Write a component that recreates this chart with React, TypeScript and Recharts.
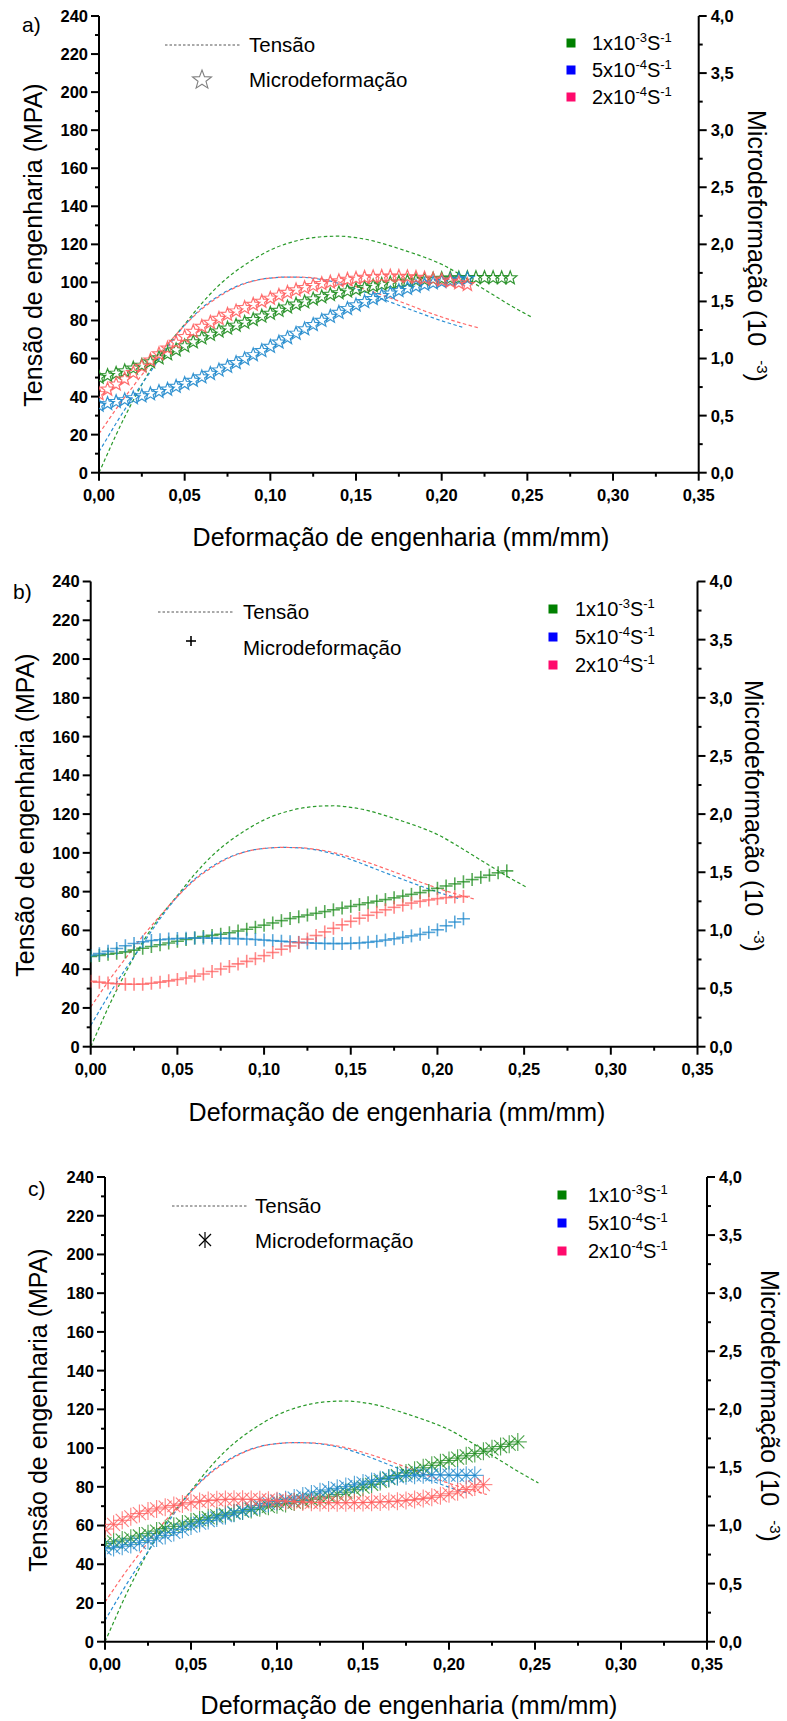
import React from 'react';
import { ComposedChart, Line, Scatter, XAxis, YAxis } from 'recharts';

// strain grid for the microdeformation markers (mm/mm)
const strainGrid = [
  0.000, 0.005, 0.010, 0.015, 0.020, 0.025, 0.030, 0.035, 0.040, 0.045,
  0.050, 0.055, 0.060, 0.065, 0.070, 0.075, 0.080, 0.085, 0.090, 0.095,
  0.100, 0.105, 0.110, 0.115, 0.120, 0.125, 0.130, 0.135, 0.140, 0.145,
  0.150, 0.155, 0.160, 0.165, 0.170, 0.175, 0.180, 0.185, 0.190, 0.195,
  0.200, 0.205, 0.210, 0.215, 0.220, 0.225, 0.230, 0.235, 0.240,
];

// Tensão (MPa), same curves in the three panels
const tensionStrainGreen = [0, 0.005, 0.01, 0.02, 0.03, 0.04, 0.05, 0.06, 0.07, 0.08, 0.09, 0.10, 0.11, 0.12, 0.13, 0.14, 0.15, 0.16, 0.17, 0.18, 0.19, 0.20, 0.21, 0.22, 0.23, 0.24, 0.252];
const tensionGreen = [0, 10, 20, 38, 54, 67, 78, 89, 98.5, 106, 112, 117, 120.5, 122.8, 124, 124.3, 123.5, 121.8, 119.2, 116.3, 113.2, 109.5, 104.5, 99, 93.5, 88, 82];
const tensionStrainBlue = [0, 0.005, 0.01, 0.02, 0.03, 0.04, 0.05, 0.06, 0.07, 0.08, 0.09, 0.10, 0.11, 0.12, 0.13, 0.14, 0.15, 0.16, 0.17, 0.18, 0.19, 0.20, 0.212];
const tensionBlue = [11, 18.5, 26, 40, 53, 66, 77.5, 86.5, 93, 97.8, 100.8, 102.3, 102.8, 102.6, 101.5, 99.5, 96.6, 93.2, 89.7, 86.3, 83, 79.8, 76.5];
const tensionStrainRed = [0, 0.005, 0.01, 0.02, 0.03, 0.04, 0.05, 0.06, 0.07, 0.08, 0.09, 0.10, 0.11, 0.12, 0.13, 0.14, 0.15, 0.16, 0.17, 0.18, 0.19, 0.20, 0.21, 0.222];
const tensionRed = [20.5, 27, 33.5, 45.5, 57, 67.5, 77.5, 86, 92.5, 97.5, 100.7, 102.3, 102.8, 102.7, 101.8, 100.2, 97.8, 95, 91.8, 88.5, 85, 81.8, 79, 76];

// Microdeformação (10^-3), panel a (stars)
const microAGreen = [0.835, 0.85, 0.87, 0.89, 0.915, 0.94, 0.97, 1.005, 1.04, 1.075, 1.11, 1.145, 1.18, 1.21, 1.24, 1.265, 1.29, 1.315, 1.34, 1.37, 1.395, 1.42, 1.45, 1.475, 1.495, 1.52, 1.54, 1.56, 1.575, 1.59, 1.605, 1.62, 1.635, 1.648, 1.66, 1.668, 1.676, 1.684, 1.69, 1.695, 1.70, 1.703, 1.705, 1.707, 1.708, 1.708, 1.707, 1.706, 1.705];
const microABlue = [0.59, 0.605, 0.622, 0.638, 0.655, 0.672, 0.69, 0.71, 0.73, 0.755, 0.78, 0.808, 0.838, 0.868, 0.898, 0.93, 0.963, 0.997, 1.032, 1.068, 1.105, 1.143, 1.181, 1.22, 1.258, 1.296, 1.333, 1.368, 1.403, 1.437, 1.468, 1.497, 1.523, 1.549, 1.572, 1.594, 1.613, 1.632, 1.648, 1.661, 1.673, 1.683, 1.692, 1.70];
const microARed = [0.69, 0.73, 0.775, 0.82, 0.875, 0.93, 0.985, 1.04, 1.09, 1.14, 1.19, 1.237, 1.28, 1.315, 1.35, 1.385, 1.415, 1.445, 1.473, 1.50, 1.527, 1.553, 1.578, 1.60, 1.62, 1.638, 1.655, 1.668, 1.68, 1.692, 1.702, 1.71, 1.715, 1.718, 1.72, 1.718, 1.715, 1.71, 1.703, 1.695, 1.686, 1.675, 1.662, 1.647];

// panel b (plus)
const microBGreen = [0.775, 0.785, 0.795, 0.803, 0.815, 0.83, 0.847, 0.862, 0.877, 0.892, 0.907, 0.922, 0.935, 0.947, 0.957, 0.967, 0.98, 0.995, 1.01, 1.027, 1.045, 1.064, 1.084, 1.102, 1.117, 1.132, 1.147, 1.162, 1.177, 1.192, 1.207, 1.222, 1.237, 1.251, 1.265, 1.28, 1.295, 1.31, 1.325, 1.343, 1.362, 1.382, 1.40, 1.418, 1.437, 1.456, 1.475, 1.495, 1.512];
const microBBlue = [0.785, 0.80, 0.82, 0.845, 0.868, 0.888, 0.903, 0.913, 0.92, 0.926, 0.93, 0.933, 0.935, 0.935, 0.934, 0.933, 0.931, 0.929, 0.926, 0.922, 0.917, 0.912, 0.907, 0.902, 0.897, 0.893, 0.89, 0.888, 0.887, 0.887, 0.889, 0.892, 0.898, 0.906, 0.917, 0.928, 0.94, 0.953, 0.966, 0.983, 1.005, 1.04, 1.072, 1.10];
const microBRed = [0.562, 0.555, 0.547, 0.541, 0.538, 0.537, 0.538, 0.545, 0.555, 0.566, 0.578, 0.591, 0.607, 0.625, 0.647, 0.668, 0.69, 0.712, 0.734, 0.757, 0.783, 0.81, 0.838, 0.866, 0.895, 0.925, 0.956, 0.987, 1.018, 1.048, 1.078, 1.105, 1.13, 1.155, 1.177, 1.198, 1.217, 1.235, 1.25, 1.262, 1.273, 1.282, 1.288, 1.292];

// panel c (asterisk)
const microCGreen = [0.845, 0.86, 0.875, 0.89, 0.91, 0.93, 0.952, 0.972, 0.993, 1.013, 1.032, 1.05, 1.067, 1.083, 1.097, 1.11, 1.124, 1.138, 1.152, 1.165, 1.178, 1.19, 1.202, 1.214, 1.226, 1.238, 1.252, 1.268, 1.287, 1.308, 1.33, 1.355, 1.38, 1.405, 1.43, 1.453, 1.475, 1.497, 1.518, 1.54, 1.56, 1.58, 1.60, 1.62, 1.64, 1.66, 1.68, 1.70, 1.72];
const microCBlue = [0.80, 0.81, 0.822, 0.836, 0.853, 0.872, 0.893, 0.915, 0.94, 0.967, 0.995, 1.02, 1.043, 1.065, 1.085, 1.106, 1.128, 1.15, 1.172, 1.19, 1.207, 1.222, 1.236, 1.254, 1.272, 1.29, 1.306, 1.32, 1.335, 1.351, 1.366, 1.38, 1.395, 1.41, 1.42, 1.428, 1.433, 1.436, 1.437, 1.436, 1.434, 1.433, 1.432, 1.432];
const microCRed = [0.97, 1.01, 1.045, 1.075, 1.103, 1.125, 1.143, 1.158, 1.172, 1.185, 1.197, 1.207, 1.215, 1.221, 1.225, 1.227, 1.227, 1.225, 1.222, 1.218, 1.214, 1.21, 1.206, 1.203, 1.2, 1.198, 1.197, 1.196, 1.196, 1.197, 1.198, 1.2, 1.203, 1.206, 1.21, 1.216, 1.223, 1.232, 1.243, 1.257, 1.273, 1.29, 1.31, 1.332, 1.352];

// ticks
const xTicks = [0, 0.025, 0.05, 0.075, 0.1, 0.125, 0.15, 0.175, 0.2, 0.225, 0.25, 0.275, 0.3, 0.325, 0.35];
const leftTicks = [0, 10, 20, 30, 40, 50, 60, 70, 80, 90, 100, 110, 120, 130, 140, 150, 160, 170, 180, 190, 200, 210, 220, 230, 240];
const rightTicks = [0, 0.25, 0.5, 0.75, 1, 1.25, 1.5, 1.75, 2, 2.25, 2.5, 2.75, 3, 3.25, 3.5, 3.75, 4];

const rateBases = ['1x10', '5x10', '2x10'];
const rateExps = ['-3', '-4', '-4'];

const GREEN = '#1e8c1e';
const BLUE = '#1f88cc';
const RED = '#ff5f5f';
const SQUARE_COLORS = ['#008000', '#0000ff', '#ff0a6c'];
const FONT = '"Liberation Sans", Arial, Helvetica, sans-serif';
const W = 787;
const AXW = 50;
const XAH = 30;

type Pt = { x: number; y: number };
const zip = (xs: number[], ys: number[]): Pt[] => ys.map((y, i) => ({ x: xs[i], y }));

const starPoints = (cx: number, cy: number, R: number) => {
  const pts: string[] = [];
  for (let i = 0; i < 10; i++) {
    const r = i % 2 === 0 ? R : R * 0.42;
    const a = -Math.PI / 2 + (i * Math.PI) / 5;
    pts.push(`${(cx + r * Math.cos(a)).toFixed(2)},${(cy + r * Math.sin(a)).toFixed(2)}`);
  }
  return pts.join(' ');
};

const Marker = ({ kind, cx, cy, color, s }: { kind: string; cx: number; cy: number; color: string; s: number }) => {
  if (cx == null || cy == null) return null;
  if (kind === 'star') {
    return <polygon points={starPoints(cx, cy, s)} fill="none" stroke={color} strokeWidth={1.2} strokeOpacity={0.9} />;
  }
  if (kind === 'plus') {
    return (
      <g stroke={color} strokeWidth={1.6} strokeOpacity={0.75}>
        <line x1={cx - s} x2={cx + s} y1={cy} y2={cy} />
        <line x1={cx} x2={cx} y1={cy - s} y2={cy + s} />
      </g>
    );
  }
  const d = s * 0.72;
  return (
    <g stroke={color} strokeWidth={1.1} strokeOpacity={0.8}>
      <line x1={cx} x2={cx} y1={cy - s} y2={cy + s} />
      <line x1={cx - d} x2={cx + d} y1={cy - d} y2={cy + d} />
      <line x1={cx - d} x2={cx + d} y1={cy + d} y2={cy - d} />
      <line x1={cx - s} x2={cx + s} y1={cy} y2={cy} />
    </g>
  );
};

const fmt2 = (v: number) => v.toFixed(2).replace('.', ',');
const fmt1 = (v: number) => v.toFixed(1).replace('.', ',');

const LeftTick = (props: any) => {
  const { x, y, payload } = props;
  const major = Math.round(payload.value) % 20 === 0;
  return (
    <g>
      <line x1={x} x2={x - (major ? 8 : 4)} y1={y} y2={y} stroke="#000" strokeWidth={2} />
      {major && (
        <text x={x - 11} y={y} dy="0.36em" textAnchor="end" fontFamily={FONT} fontWeight="bold" fontSize={16.5} fill="#000">
          {payload.value}
        </text>
      )}
    </g>
  );
};

const RightTick = (props: any) => {
  const { x, y, payload } = props;
  const major = Math.round(payload.value * 100) % 50 === 0;
  return (
    <g>
      <line x1={x} x2={x + (major ? 8 : 4)} y1={y} y2={y} stroke="#000" strokeWidth={2} />
      {major && (
        <text x={x + 12} y={y} dy="0.36em" textAnchor="start" fontFamily={FONT} fontWeight="bold" fontSize={16.5} fill="#000">
          {fmt1(payload.value)}
        </text>
      )}
    </g>
  );
};

const BottomTick = (props: any) => {
  const { x, y, payload } = props;
  const major = Math.round(payload.value * 1000) % 50 === 0;
  return (
    <g>
      <line x1={x} x2={x} y1={y} y2={y + (major ? 8 : 4)} stroke="#000" strokeWidth={2} />
      {major && (
        <text x={x} y={y + 22} dy="0.36em" textAnchor="middle" fontFamily={FONT} fontWeight="bold" fontSize={16.5} fill="#000">
          {fmt2(payload.value)}
        </text>
      )}
    </g>
  );
};

const panels = [
  {
    id: 'a', marker: 'star', size: 7, top: 0, height: 520, left: 99, right: 698.7, plotTop: 16, plotBottom: 472.7,
    green: microAGreen, blue: microABlue, red: microARed,
    letter: [22, 24], leftTitle: [33, 245], xTitle: [401, 537], rightTitle: [757, 110],
    leg: { x1: 165, x2: 240, textX: 249, tY: 45, mY: 80, symX: 202, symY: 80, sqX: 571, sqY: [43, 70, 97], rateX: 592 },
  },
  {
    id: 'b', marker: 'plus', size: 6.5, top: 560, height: 520, left: 90.7, right: 697.5, plotTop: 581.5, plotBottom: 1046.7,
    green: microBGreen, blue: microBBlue, red: microBRed,
    letter: [13, 591], leftTitle: [25, 815], xTitle: [397, 1112], rightTitle: [754, 680],
    leg: { x1: 158, x2: 233, textX: 243, tY: 612, mY: 648, symX: 191, symY: 641, sqX: 553, sqY: [609, 637, 665], rateX: 575 },
  },
  {
    id: 'c', marker: 'asterisk', size: 9, top: 1150, height: 540, left: 105, right: 707, plotTop: 1177, plotBottom: 1641.7,
    green: microCGreen, blue: microCBlue, red: microCRed,
    letter: [28, 1188], leftTitle: [38, 1410], xTitle: [409, 1705], rightTitle: [770, 1270],
    leg: { x1: 172, x2: 247, textX: 255, tY: 1206, mY: 1241, symX: 205, symY: 1240, sqX: 562, sqY: [1195, 1223, 1251], rateX: 588 },
  },
];

const Panel = ({ p }: { p: typeof panels[number] }) => {
  const margin = {
    top: p.plotTop - p.top,
    left: p.left - AXW,
    right: W - p.right - AXW,
    bottom: p.top + p.height - p.plotBottom - XAH,
  };
  const series = [
    { key: 'g', color: GREEN, data: zip(strainGrid, p.green) },
    { key: 'b', color: BLUE, data: zip(strainGrid, p.blue) },
    { key: 'r', color: RED, data: zip(strainGrid, p.red) },
  ];
  const tension = [
    { key: 'tg', color: '#2a9a2a', data: zip(tensionStrainGreen, tensionGreen) },
    { key: 'tb', color: '#2b8fd4', data: zip(tensionStrainBlue, tensionBlue) },
    { key: 'tr', color: '#ff6868', data: zip(tensionStrainRed, tensionRed) },
  ];
  return (
    <div style={{ position: 'absolute', left: 0, top: p.top, width: W, height: p.height }}>
      <ComposedChart width={W} height={p.height} margin={margin}>
        <XAxis
          dataKey="x" type="number" domain={[0, 0.35]} ticks={xTicks} interval={0} allowDataOverflow
          height={XAH} tickSize={0} tickMargin={0} tick={<BottomTick />}
          axisLine={{ stroke: '#000', strokeWidth: 2 }} tickLine={false}
        />
        <YAxis
          yAxisId="left" orientation="left" type="number" domain={[0, 240]} ticks={leftTicks} interval={0}
          width={AXW} tickSize={0} tickMargin={0} tick={<LeftTick />}
          axisLine={{ stroke: '#000', strokeWidth: 2 }} tickLine={false}
        />
        <YAxis
          yAxisId="right" orientation="right" type="number" domain={[0, 4]} ticks={rightTicks} interval={0}
          width={AXW} tickSize={0} tickMargin={0} tick={<RightTick />}
          axisLine={{ stroke: '#000', strokeWidth: 2 }} tickLine={false}
        />
        {series.map((s) => (
          <Scatter
            key={s.key} yAxisId="right" data={s.data} dataKey="y" isAnimationActive={false}
            shape={(sp: any) => <Marker kind={p.marker} cx={sp.cx} cy={sp.cy} color={s.color} s={p.size} />}
          />
        ))}
        {tension.map((t) => (
          <Line
            key={t.key} yAxisId="left" data={t.data} dataKey="y" type="monotone" stroke={t.color}
            strokeWidth={1.2} strokeDasharray="3.5 2.5" dot={false} activeDot={false} isAnimationActive={false}
          />
        ))}
      </ComposedChart>
    </div>
  );
};

const LegendSymbol = ({ kind, x, y }: { kind: string; x: number; y: number }) => {
  if (kind === 'star') return <polygon points={starPoints(x, y, 10)} fill="none" stroke="#808080" strokeWidth={1.1} />;
  if (kind === 'plus') {
    return (
      <g stroke="#000" strokeWidth={1.6}>
        <line x1={x - 5} x2={x + 5} y1={y} y2={y} />
        <line x1={x} x2={x} y1={y - 5} y2={y + 5} />
      </g>
    );
  }
  return (
    <g stroke="#000" strokeWidth={1.2}>
      <line x1={x} x2={x} y1={y - 8} y2={y + 8} />
      <line x1={x - 6} x2={x + 6} y1={y - 6} y2={y + 6} />
      <line x1={x - 6} x2={x + 6} y1={y + 6} y2={y - 6} />
    </g>
  );
};

const Overlay = () => (
  <svg width={W} height={1721} style={{ position: 'absolute', left: 0, top: 0, pointerEvents: 'none' }} fontFamily={FONT}>
    {panels.map((p) => (
      <g key={p.id} fill="#000">
        <text x={p.letter[0]} y={p.letter[1]} dy="0.36em" fontSize={21}>{p.id})</text>
        <text
          x={p.leftTitle[0]} y={p.leftTitle[1]} dy="0.36em" fontSize={25} textAnchor="middle"
          transform={`rotate(-90 ${p.leftTitle[0]} ${p.leftTitle[1]})`}
        >
          Tensão de engenharia (MPA)
        </text>
        <text x={p.xTitle[0]} y={p.xTitle[1]} dy="0.36em" fontSize={25} textAnchor="middle">
          Deformação de engenharia (mm/mm)
        </text>
        <text
          x={p.rightTitle[0]} y={p.rightTitle[1]} dy="0.36em" fontSize={25} textAnchor="start"
          transform={`rotate(90 ${p.rightTitle[0]} ${p.rightTitle[1]})`}
        >
          Microdeformação (10
          <tspan dx={14} dy={-9} fontSize={15}>-3</tspan>
          <tspan dy={9}>)</tspan>
        </text>
        <line x1={p.leg.x1} x2={p.leg.x2} y1={p.leg.tY} y2={p.leg.tY} stroke="#555" strokeWidth={1} strokeDasharray="2.5 2" />
        <text x={p.leg.textX} y={p.leg.tY} dy="0.36em" fontSize={20.5}>Tensão</text>
        <LegendSymbol kind={p.marker} x={p.leg.symX} y={p.leg.symY} />
        <text x={p.leg.textX} y={p.leg.mY} dy="0.36em" fontSize={20.5}>Microdeformação</text>
        {rateBases.map((b, i) => (
          <g key={b + i}>
            <rect x={p.leg.sqX - 4.5} y={p.leg.sqY[i] - 4.5} width={9} height={9} fill={SQUARE_COLORS[i]} />
            <text x={p.leg.rateX} y={p.leg.sqY[i]} dy="0.36em" fontSize={20}>
              {b}
              <tspan dy={-8} fontSize={13}>{rateExps[i]}</tspan>
              <tspan dy={8}>S</tspan>
              <tspan dy={-8} fontSize={13}>-1</tspan>
            </text>
          </g>
        ))}
      </g>
    ))}
  </svg>
);

export default function App() {
  return (
    <div style={{ position: 'absolute', left: 0, top: 0, width: W, height: 1721, background: '#fff' }}>
      {panels.map((p) => (
        <Panel key={p.id} p={p} />
      ))}
      <Overlay />
    </div>
  );
}
